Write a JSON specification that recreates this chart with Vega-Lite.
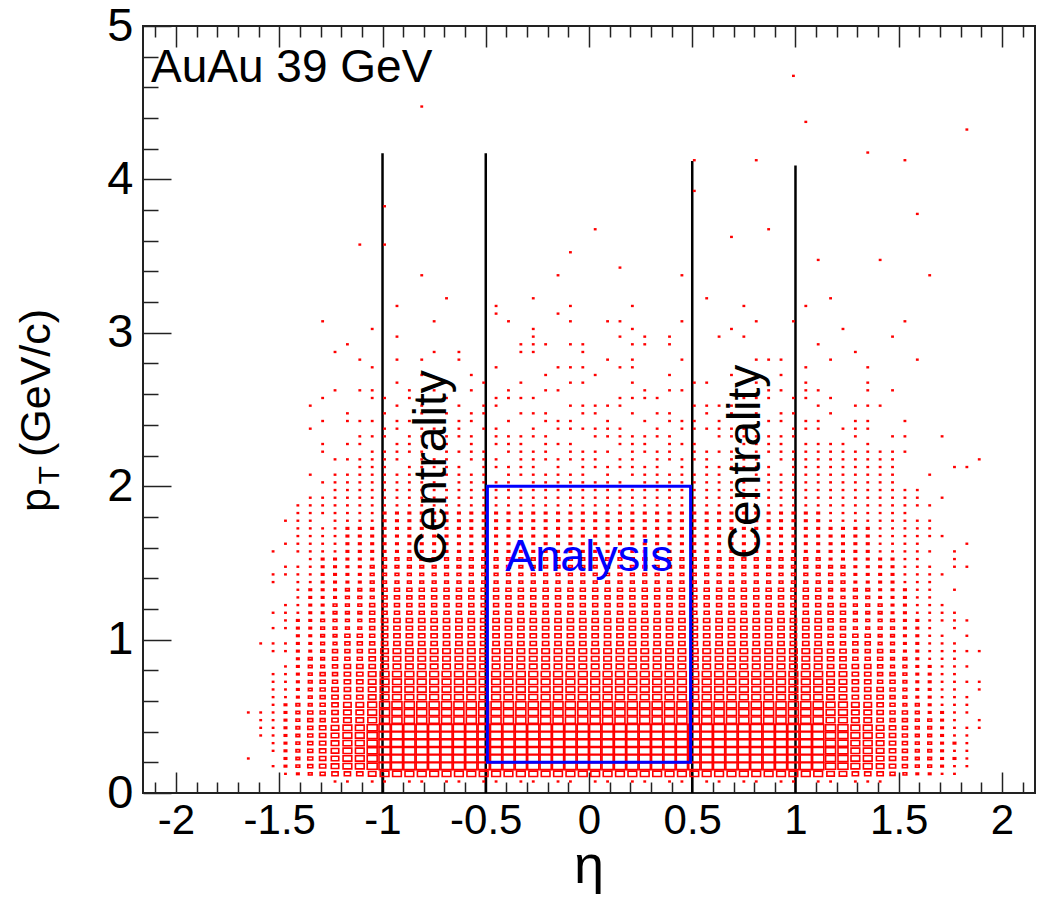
{
"$schema": "https://vega.github.io/schema/vega-lite/v6.json",
"width": 892, "height": 767,
"autosize": {"type": "none"},
"padding": {"left": 143, "top": 26, "right": 12, "bottom": 105},
"background": "white",
"config": {"view": {"stroke": "#222", "strokeWidth": 2}, "font": "Liberation Sans"},
"datasets": {
"grid": [{"k": 1, "p": [0.075,0.125,0.175,0.225,0.275,0.325,0.375,0.425,0.475,0.525,0.575,0.625,0.675,0.725,0.775,0.825,0.875,0.925,0.975,1.025,1.075,1.125,1.175,1.225,1.275,1.325,1.375,1.425,1.475,1.525,1.575,1.625,1.675,1.725,1.775,1.825,1.875,1.925,1.975,2.025,2.075,2.125,2.175,2.225,2.275,2.325,2.375,2.425,2.475,2.525,2.575,2.625,2.675,2.725]}],
"cols": [
{"e":-1.65,"k":1,"n":[0,0,0,1,0,0,0,0,0,1]},
{"e":-1.59,"k":1,"n":[0,0,0,0,0,0,1,1,1,1,0,0,0,0,0,0,0,0,1]},
{"e":-1.53,"k":1,"n":[0,0,1,0,1,1,1,1,1,1,1,1,1,1,1,0,0,1,1,0,1,0,1,0,0,0,1,1,0,0,1]},
{"e":-1.47,"k":1,"n":[0,1,2,2,2,2,2,2,2,2,2,1,1,1,1,1,0,1,1,0,1,1,1,1,0,0,0,1,1,0,0,1,0,0,1]},
{"e":-1.41,"k":1,"n":[0,2,3,3,3,3,3,3,3,3,3,2,2,2,2,2,2,2,2,2,2,2,1,1,1,1,1,1,1,0,1,1,1,1,1,1,1]},
{"e":-1.35,"k":1,"n":[0,3,4,4,4,4,4,4,4,4,3,3,3,3,3,3,3,2,2,2,2,2,2,2,2,2,1,1,1,1,1,1,1,1,1,1,1,1,0,0,1,0,0,0,0,0,1,0,0,1]},
{"e":-1.29,"k":1,"n":[0,4,5,5,5,5,5,5,4,4,4,4,4,4,4,3,3,3,3,3,3,3,2,2,2,2,2,2,2,2,1,1,1,1,0,1,1,1,0,1,0,0,0,1,1,0,0,1,0,0,1]},
{"e":-1.23,"k":1,"n":[1,5,6,6,6,6,6,6,5,5,5,5,5,4,4,4,4,4,3,3,3,3,3,3,2,2,2,2,2,2,1,1,1,1,1,1,1,1,1,1,1,0,1,0,0,0,0,0,0,0,0,1]},
{"e":-1.17,"k":1,"n":[1,5,7,7,7,7,7,7,6,6,6,5,5,5,5,5,4,4,4,4,3,3,3,3,3,3,2,2,2,2,2,2,2,2,1,1,1,1,1,1,1,0,1,0,1,0,0,1,1]},
{"e":-1.11,"k":1,"n":[0,5,7,7,7,7,7,7,6,6,6,5,5,5,5,5,4,4,4,4,3,3,3,3,3,3,2,2,2,2,2,2,2,2,1,1,1,1,1,1,1,1,1,0,1,1,0,1,0,0,0,1]},
{"e":-1.05,"k":1,"n":[1,6,8,8,8,8,8,8,7,7,7,6,6,6,6,5,5,5,4,4,4,4,4,4,3,3,3,3,3,2,2,2,2,2,1,1,1,1,1,1,1,1,1,1,0,1,0,1,0,0,1,1]},
{"e":-0.99,"k":1,"n":[1,7,9,9,9,9,9,9,8,8,8,7,7,7,7,6,6,6,5,5,5,5,4,4,4,4,3,3,3,3,2,2,2,2,2,2,1,1,1,1,1,1,1,1,0,1,1,0,1,0,1,0,0,0]},
{"e":-0.93,"k":1,"n":[0,7,9,9,9,9,9,9,8,8,8,7,7,7,7,6,6,6,5,5,5,5,4,4,4,4,3,3,3,3,2,2,2,2,2,2,1,1,1,1,1,0,1,1,1,0,1,1,0,1,0,0,1,0]},
{"e":-0.87,"k":1,"n":[1,7,9,9,9,9,9,9,8,8,8,7,7,7,7,6,6,6,5,5,5,5,4,4,4,4,3,3,3,3,2,2,2,2,2,2,1,1,1,1,1,1,0,1,1,1,0,1,0,0,1,1,0,0]},
{"e":-0.81,"k":1,"n":[1,7,9,9,9,9,9,9,8,8,8,7,7,7,7,6,6,6,5,5,5,5,4,4,4,4,3,3,3,3,2,2,2,2,2,2,1,1,1,1,0,1,1,1,0,1,1,0,1,1,0,0,0,1]},
{"e":-0.75,"k":1,"n":[0,7,9,9,9,9,9,9,8,8,8,7,7,7,7,6,6,6,5,5,5,5,4,4,4,4,3,3,3,3,2,2,2,2,2,2,1,1,1,1,1,1,1,0,1,0,1,1,0,0,0,1,0,0]},
{"e":-0.69,"k":1,"n":[1,7,9,9,9,9,9,9,8,8,8,7,7,7,7,6,6,6,5,5,5,5,4,4,4,4,3,3,3,3,2,2,2,2,2,2,1,1,1,0,1,1,1,1,1,1,0,0,1,0,1,0,1,0]},
{"e":-0.63,"k":1,"n":[1,7,9,9,9,9,9,9,8,8,8,7,7,7,7,6,6,6,5,5,5,5,4,4,4,4,3,3,3,3,2,2,2,2,2,2,1,1,1,1,1,1,0,1,0,1,1,1,0,1,0,0,0,0]},
{"e":-0.57,"k":1,"n":[0,7,9,9,9,9,9,9,8,8,8,7,7,7,7,6,6,6,5,5,5,5,4,4,4,4,3,3,3,3,2,2,2,2,2,2,1,1,1,1,1,0,1,1,1,1,0,1,1,0,0,1,0,1]},
{"e":-0.51,"k":1,"n":[1,7,9,9,9,9,9,9,8,8,8,7,7,7,7,6,6,6,5,5,5,5,4,4,4,4,3,3,3,3,2,2,2,2,2,2,1,1,1,1,1,1,1,1,0,0,1,0,1,1,0,0,1,0]},
{"e":-0.45,"k":1,"n":[1,7,9,9,9,9,9,9,8,8,8,7,7,7,7,6,6,6,5,5,5,5,4,4,4,4,3,3,3,3,2,2,2,2,2,2,1,1,1,1,0,1,1,0,1,1,1,0,0,1,1,0,0,0]},
{"e":-0.39,"k":1,"n":[0,7,9,9,9,9,9,9,8,8,8,7,7,7,7,6,6,6,5,5,5,5,4,4,4,4,3,3,3,3,2,2,2,2,2,2,1,1,1,1,1,1,0,1,1,1,0,1,0,0,1,1,0,0]},
{"e":-0.33,"k":1,"n":[1,7,9,9,9,9,9,9,8,8,8,7,7,7,7,6,6,6,5,5,5,5,4,4,4,4,3,3,3,3,2,2,2,2,2,2,1,1,1,0,1,1,1,1,1,1,0,0,1,0,1,0,1,0]},
{"e":-0.27,"k":1,"n":[1,7,9,9,9,9,9,9,8,8,8,7,7,7,7,6,6,6,5,5,5,5,4,4,4,4,3,3,3,3,2,2,2,2,2,2,1,1,1,1,1,1,1,1,0,1,1,0,1,0,1,0,0,0]},
{"e":-0.21,"k":1,"n":[0,7,9,9,9,9,9,9,8,8,8,7,7,7,7,6,6,6,5,5,5,5,4,4,4,4,3,3,3,3,2,2,2,2,2,2,1,1,1,1,1,0,1,1,1,1,0,1,1,0,0,1,0,1]},
{"e":-0.15,"k":1,"n":[1,7,9,9,9,9,9,9,8,8,8,7,7,7,7,6,6,6,5,5,5,5,4,4,4,4,3,3,3,3,2,2,2,2,2,2,1,1,1,1,1,1,1,0,1,0,1,1,0,0,0,1,0,0]},
{"e":-0.09,"k":1,"n":[1,7,9,9,9,9,9,9,8,8,8,7,7,7,7,6,6,6,5,5,5,5,4,4,4,4,3,3,3,3,2,2,2,2,2,2,1,1,1,1,1,0,1,1,1,0,1,1,0,1,0,0,1,0]},
{"e":-0.03,"k":1,"n":[0,7,9,9,9,9,9,9,8,8,8,7,7,7,7,6,6,6,5,5,5,5,4,4,4,4,3,3,3,3,2,2,2,2,2,2,1,1,1,1,1,1,1,1,0,0,1,0,1,1,0,0,1,0]},
{"e":0.03,"k":1,"n":[1,7,9,9,9,9,9,9,8,8,8,7,7,7,7,6,6,6,5,5,5,5,4,4,4,4,3,3,3,3,2,2,2,2,2,2,1,1,1,1,0,1,1,1,0,1,1,0,1,1,0,0,0,1]},
{"e":0.09,"k":1,"n":[1,7,9,9,9,9,9,9,8,8,8,7,7,7,7,6,6,6,5,5,5,5,4,4,4,4,3,3,3,3,2,2,2,2,2,2,1,1,1,1,1,1,0,1,0,1,1,1,0,1,0,0,0,0]},
{"e":0.15,"k":1,"n":[0,7,9,9,9,9,9,9,8,8,8,7,7,7,7,6,6,6,5,5,5,5,4,4,4,4,3,3,3,3,2,2,2,2,2,2,1,1,1,1,0,1,1,0,1,1,1,0,0,1,1,0,0,0]},
{"e":0.21,"k":1,"n":[1,7,9,9,9,9,9,9,8,8,8,7,7,7,7,6,6,6,5,5,5,5,4,4,4,4,3,3,3,3,2,2,2,2,2,2,1,1,1,0,1,1,1,1,1,1,0,0,1,0,1,0,1,0]},
{"e":0.27,"k":1,"n":[1,7,9,9,9,9,9,9,8,8,8,7,7,7,7,6,6,6,5,5,5,5,4,4,4,4,3,3,3,3,2,2,2,2,2,2,1,1,1,1,1,1,0,1,1,1,0,1,0,0,1,1,0,0]},
{"e":0.33,"k":1,"n":[0,7,9,9,9,9,9,9,8,8,8,7,7,7,7,6,6,6,5,5,5,5,4,4,4,4,3,3,3,3,2,2,2,2,2,2,1,1,1,1,1,1,1,1,0,1,1,0,1,0,1,0,0,0]},
{"e":0.39,"k":1,"n":[1,7,9,9,9,9,9,9,8,8,8,7,7,7,7,6,6,6,5,5,5,5,4,4,4,4,3,3,3,3,2,2,2,2,2,2,1,1,1,1,1,0,1,1,1,1,0,1,1,0,0,1,0,1]},
{"e":0.45,"k":1,"n":[1,7,9,9,9,9,9,9,8,8,8,7,7,7,7,6,6,6,5,5,5,5,4,4,4,4,3,3,3,3,2,2,2,2,2,2,1,1,1,1,1,1,1,0,1,0,1,1,0,0,0,1,0,0]},
{"e":0.51,"k":1,"n":[0,7,9,9,9,9,9,9,8,8,8,7,7,7,7,6,6,6,5,5,5,5,4,4,4,4,3,3,3,3,2,2,2,2,2,2,1,1,1,1,1,0,1,1,1,0,1,1,0,1,0,0,1,0]},
{"e":0.57,"k":1,"n":[1,7,9,9,9,9,9,9,8,8,8,7,7,7,7,6,6,6,5,5,5,5,4,4,4,4,3,3,3,3,2,2,2,2,2,2,1,1,1,1,1,1,1,1,0,0,1,0,1,1,0,0,1,0]},
{"e":0.63,"k":1,"n":[1,7,9,9,9,9,9,9,8,8,8,7,7,7,7,6,6,6,5,5,5,5,4,4,4,4,3,3,3,3,2,2,2,2,2,2,1,1,1,1,1,1,0,1,0,1,1,1,0,1,0,0,0,0]},
{"e":0.69,"k":1,"n":[0,7,9,9,9,9,9,9,8,8,8,7,7,7,7,6,6,6,5,5,5,5,4,4,4,4,3,3,3,3,2,2,2,2,2,2,1,1,1,1,0,1,1,1,0,1,1,0,1,1,0,0,0,1]},
{"e":0.75,"k":1,"n":[1,7,9,9,9,9,9,9,8,8,8,7,7,7,7,6,6,6,5,5,5,5,4,4,4,4,3,3,3,3,2,2,2,2,2,2,1,1,1,1,0,1,1,0,1,1,1,0,0,1,1,0,0,0]},
{"e":0.81,"k":1,"n":[1,7,9,9,9,9,9,9,8,8,8,7,7,7,7,6,6,6,5,5,5,5,4,4,4,4,3,3,3,3,2,2,2,2,2,2,1,1,1,0,1,1,1,1,1,1,0,0,1,0,1,0,1,0]},
{"e":0.87,"k":1,"n":[0,7,9,9,9,9,9,9,8,8,8,7,7,7,7,6,6,6,5,5,5,5,4,4,4,4,3,3,3,3,2,2,2,2,2,2,1,1,1,1,1,1,0,1,1,1,0,1,0,0,1,1,0,0]},
{"e":0.93,"k":1,"n":[1,7,9,9,9,9,9,9,8,8,8,7,7,7,7,6,6,6,5,5,5,5,4,4,4,4,3,3,3,3,2,2,2,2,2,2,1,1,1,1,1,0,1,1,1,1,0,1,1,0,0,1,0,1]},
{"e":0.99,"k":1,"n":[1,7,9,9,9,9,9,9,8,8,8,7,7,7,7,6,6,6,5,5,5,5,4,4,4,4,3,3,3,3,2,2,2,2,2,2,1,1,1,1,1,1,1,1,0,1,1,0,1,0,1,0,0,0]},
{"e":1.05,"k":1,"n":[0,7,9,9,9,9,9,9,8,8,8,7,7,7,7,6,6,6,5,5,5,5,4,4,4,4,3,3,3,3,2,2,2,2,2,2,1,1,1,1,1,1,1,1,1,0,1,1,0,0,1,1,1,0]},
{"e":1.11,"k":1,"n":[1,7,9,9,9,9,9,9,8,8,8,7,7,7,7,6,6,6,5,5,5,5,4,4,4,4,3,3,3,3,2,2,2,2,2,2,1,1,1,1,1,1,1,1,1,0,1,1,0,1,0,1,0,0]},
{"e":1.17,"k":1,"n":[1,6,8,8,8,8,8,8,7,7,7,6,6,6,6,5,5,5,4,4,4,4,4,4,3,3,3,3,3,2,2,2,2,2,1,1,1,1,1,1,1,1,1,1,1,0,0,0,1,0,1]},
{"e":1.23,"k":1,"n":[0,6,8,8,8,8,8,8,7,7,7,6,6,6,6,5,5,5,4,4,4,4,4,4,3,3,3,3,3,2,2,2,2,2,1,1,1,1,1,1,1,1,1,1,1,0,1]},
{"e":1.29,"k":1,"n":[1,5,7,7,7,7,7,7,6,6,6,5,5,5,5,5,4,4,4,4,3,3,3,3,3,3,2,2,2,2,2,2,2,2,1,1,1,1,1,1,1,1,1,1,0,1,1,1,0,1]},
{"e":1.35,"k":1,"n":[1,5,7,7,7,7,7,7,6,6,6,5,5,5,5,5,4,4,4,4,3,3,3,3,3,3,2,2,2,2,2,2,2,2,1,1,1,1,1,1,1,1,1,1,1,0,1,1,0,1,0,1,1]},
{"e":1.41,"k":1,"n":[1,5,6,6,6,6,6,6,5,5,5,5,5,4,4,4,4,4,3,3,3,3,3,3,2,2,2,2,2,2,1,1,1,1,1,1,1,1,1,1,1,1,1,1,0,0,0,0,0,1]},
{"e":1.47,"k":1,"n":[0,4,5,5,5,5,5,5,4,4,4,4,4,4,4,3,3,3,3,3,3,3,2,2,2,2,2,2,2,2,1,1,1,1,1,1,1,1,1,1,1,1,1,1,0,1,0,0,0,0,0,1]},
{"e":1.53,"k":1,"n":[0,3,4,4,4,4,4,4,4,4,3,3,3,3,3,3,3,2,2,2,2,2,2,2,2,2,1,1,1,1,1,1,1,1,1,1,1,1,1,0,0,0,0,1,0,1,0,1]},
{"e":1.59,"k":1,"n":[0,2,3,3,3,3,3,3,3,3,3,2,2,2,2,2,2,2,2,2,2,2,1,1,1,1,1,1,1,1,1,1,1,1,1,0,1,1,1]},
{"e":1.65,"k":1,"n":[0,2,3,3,3,3,3,3,3,2,2,2,2,2,2,2,1,1,1,1,1,1,1,1,1,1,1,1,1,0,1,0,1,1,1,0,1,0,0,0,1]},
{"e":1.71,"k":1,"n":[0,1,2,2,2,2,2,2,2,2,1,1,1,1,1,1,1,1,1,1,0,1,1,1,0,0,0,1,0,0,0,0,1,0,0,0,0,1,0,0,0,0,0,0,0,1]},
{"e":1.77,"k":1,"n":[0,1,1,2,1,2,1,1,1,1,1,1,1,1,1,1,1,1,1,0,1,1,1,0,0,1,0,0,1,1,1,0,0,0,0,0,0,0,0,0,0,1]},
{"e":1.83,"k":1,"n":[0,0,1,1,1,1,1,1,0,1,1,1,0,1,0,1,0,1,0,1,0,1,0,0,0,0,0,0,1,0,0,1,0,0,0,0,0,0,0,0,0,1]},
{"e":1.89,"k":1,"n":[0,0,0,0,0,0,0,1,1,0,0,0,1,1,0,0,0,1,0,0,0,0,0,0,0,0,0,0,0,0,0,0,0,0,0,0,0,0,0,0,0,0,1]}
],
"hi": [
{"e":-0.81,"p":4.475,"n":1},{"e":-0.99,"p":3.825,"n":1},{"e":-1.11,"p":3.575,"n":1},{"e":-0.99,"p":3.575,"n":1},{"e":-0.81,"p":3.375,"n":1},{"e":-0.69,"p":3.225,"n":1},
{"e":0.99,"p":4.675,"n":1},{"e":1.05,"p":4.375,"n":1},{"e":1.83,"p":4.325,"n":1},{"e":0.81,"p":4.125,"n":1},{"e":1.35,"p":4.175,"n":1},{"e":1.53,"p":4.125,"n":1},{"e":0.51,"p":4.125,"n":1},{"e":0.51,"p":3.925,"n":1},{"e":1.59,"p":3.775,"n":1},{"e":0.03,"p":3.675,"n":1},{"e":0.69,"p":3.625,"n":1},{"e":0.87,"p":3.675,"n":1},{"e":-0.09,"p":3.525,"n":1},{"e":1.11,"p":3.475,"n":1},{"e":1.41,"p":3.475,"n":1},{"e":-0.15,"p":3.375,"n":1},{"e":0.15,"p":3.425,"n":1},{"e":0.45,"p":3.375,"n":1},{"e":1.65,"p":3.375,"n":1},{"e":-0.27,"p":3.225,"n":1},{"e":0.57,"p":3.225,"n":1},
{"e":-0.93,"p":3.175,"n":1},{"e":-0.45,"p":3.175,"n":1},{"e":-0.09,"p":3.175,"n":1},{"e":0.21,"p":3.175,"n":1},{"e":0.75,"p":3.175,"n":1},{"e":-0.45,"p":3.125,"n":1},{"e":-0.15,"p":3.125,"n":1},{"e":-0.75,"p":3.075,"n":1},{"e":-0.39,"p":3.075,"n":1},{"e":-0.09,"p":3.075,"n":1},{"e":0.09,"p":3.075,"n":1},{"e":0.15,"p":3.075,"n":1},{"e":0.45,"p":3.075,"n":1},{"e":0.81,"p":3.075,"n":1},{"e":-0.27,"p":3.025,"n":1},{"e":0.21,"p":3.025,"n":1},{"e":0.69,"p":3.025,"n":1},
{"e":-0.93,"p":2.975,"n":1},{"e":-0.27,"p":2.975,"n":1},{"e":0.15,"p":2.975,"n":1},{"e":0.27,"p":2.975,"n":1},{"e":0.39,"p":2.975,"n":1},{"e":0.63,"p":2.975,"n":1},{"e":0.75,"p":2.975,"n":1},{"e":-0.75,"p":2.875,"n":1},{"e":-0.63,"p":2.875,"n":1},{"e":-0.33,"p":2.925,"n":1},{"e":-0.27,"p":2.925,"n":1},{"e":-0.21,"p":2.925,"n":1},{"e":-0.09,"p":2.925,"n":1},{"e":-0.03,"p":2.925,"n":1},{"e":0.21,"p":2.925,"n":1},{"e":0.27,"p":2.925,"n":1},{"e":0.39,"p":2.925,"n":1},{"e":-0.33,"p":2.875,"n":1},{"e":-0.27,"p":2.875,"n":1},{"e":-0.03,"p":2.875,"n":1},
{"e":-0.93,"p":2.825,"n":1},{"e":-0.81,"p":2.825,"n":1},{"e":-0.63,"p":2.825,"n":1},{"e":0.09,"p":2.825,"n":1},{"e":0.21,"p":2.825,"n":1},{"e":0.45,"p":2.825,"n":1},{"e":0.81,"p":2.825,"n":1},{"e":0.87,"p":2.825,"n":1},{"e":0.93,"p":2.825,"n":1},{"e":-0.45,"p":2.775,"n":1},{"e":-0.15,"p":2.775,"n":1},{"e":-0.09,"p":2.775,"n":1},{"e":-0.03,"p":2.775,"n":1},{"e":0.15,"p":2.775,"n":1},{"e":0.21,"p":2.775,"n":1},
{"e":-1.29,"p":3.075,"n":1},{"e":-1.23,"p":2.875,"n":1},{"e":-1.17,"p":2.925,"n":1},{"e":-1.05,"p":3.025,"n":1},{"e":-1.11,"p":2.825,"n":1},{"e":-1.05,"p":2.775,"n":1},{"e":1.05,"p":2.775,"n":1},{"e":1.11,"p":2.925,"n":1},{"e":1.17,"p":2.825,"n":1},{"e":1.23,"p":3.025,"n":1},{"e":1.29,"p":2.875,"n":1},{"e":1.35,"p":2.775,"n":1},{"e":1.47,"p":2.975,"n":1},{"e":1.53,"p":3.075,"n":1},{"e":1.59,"p":2.825,"n":1},{"e":1.17,"p":3.225,"n":1},{"e":0.99,"p":3.075,"n":1},{"e":1.05,"p":3.175,"n":1}
]
},
"resolve": {"scale": {"x": "independent"}},
"layer": [
{
"data": {"values": [{"e": -1, "p": 0, "p2": 4.17}, {"e": -0.5, "p": 0, "p2": 4.17}, {"e": 0.5, "p": 0, "p2": 4.12}, {"e": 1, "p": 0, "p2": 4.09}]},
"mark": {"type": "rule", "color": "#000000", "strokeWidth": 2.5},
"encoding": {
"x": {"field": "e", "type": "quantitative", "scale": {"domain": [-2.16, 2.16], "nice": false, "zero": false},
"axis": {"orient": "top", "values": [-2.1,-2,-1.9,-1.8,-1.7,-1.6,-1.5,-1.4,-1.3,-1.2,-1.1,-1,-0.9,-0.8,-0.7,-0.6,-0.5,-0.4,-0.3,-0.2,-0.1,0,0.1,0.2,0.3,0.4,0.5,0.6,0.7,0.8,0.9,1,1.1,1.2,1.3,1.4,1.5,1.6,1.7,1.8,1.9,2,2.1],
"title": null, "domain": false, "grid": false, "labels": false, "tickColor": "#222", "tickWidth": 1.5,
"tickSize": {"condition": {"test": "abs(datum.value*2-round(datum.value*2))<0.001", "value": -21}, "value": -11}}},
"y": {"field": "p", "type": "quantitative", "scale": {"domain": [0, 5], "nice": false, "zero": false},
"axis": {"orient": "left", "values": [0,0.2,0.4,0.6,0.8,1,1.2,1.4,1.6,1.8,2,2.2,2.4,2.6,2.8,3,3.2,3.4,3.6,3.8,4,4.2,4.4,4.6,4.8,5],
"title": null, "domain": false, "grid": false, "tickColor": "#222", "tickWidth": 1.5,
"tickSize": {"condition": {"test": "abs(datum.value-round(datum.value))<0.001", "value": -28}, "value": -15},
"labelExpr": "abs(datum.value-round(datum.value))<0.001 ? toString(round(datum.value)) : ''",
"labelFont": "Liberation Sans", "labelFontSize": 47, "labelColor": "#000", "labelPadding": 38, "labelOverlap": false, "labelFlush": false, "labelBound": false}},
"y2": {"field": "p2"}
}
},
{
"encoding": {
"x": {"field": "e", "type": "quantitative", "scale": {"domain": [-2.16, 2.16], "nice": false, "zero": false},
"axis": {"orient": "bottom", "values": [-2.1,-2,-1.9,-1.8,-1.7,-1.6,-1.5,-1.4,-1.3,-1.2,-1.1,-1,-0.9,-0.8,-0.7,-0.6,-0.5,-0.4,-0.3,-0.2,-0.1,0,0.1,0.2,0.3,0.4,0.5,0.6,0.7,0.8,0.9,1,1.1,1.2,1.3,1.4,1.5,1.6,1.7,1.8,1.9,2,2.1],
"title": null, "domain": false, "grid": false, "tickColor": "#222", "tickWidth": 1.5,
"tickSize": {"condition": {"test": "abs(datum.value*2-round(datum.value*2))<0.001", "value": -21}, "value": -11},
"labelExpr": "abs(datum.value*2-round(datum.value*2))<0.001 ? toString(datum.value) : ''",
"labelFont": "Liberation Sans", "labelFontSize": 42, "labelColor": "#000", "labelPadding": 28, "labelOverlap": false, "labelFlush": false, "labelBound": false}},
"y": {"field": "p", "type": "quantitative", "scale": {"domain": [0, 5], "nice": false, "zero": false},
"axis": {"orient": "left", "values": [0,0.2,0.4,0.6,0.8,1,1.2,1.4,1.6,1.8,2,2.2,2.4,2.6,2.8,3,3.2,3.4,3.6,3.8,4,4.2,4.4,4.6,4.8,5],
"title": null, "domain": false, "grid": false, "tickColor": "#222", "tickWidth": 1.5,
"tickSize": {"condition": {"test": "abs(datum.value-round(datum.value))<0.001", "value": -28}, "value": -15},
"labelExpr": "abs(datum.value-round(datum.value))<0.001 ? toString(round(datum.value)) : ''",
"labelFont": "Liberation Sans", "labelFontSize": 47, "labelColor": "#000", "labelPadding": 38, "labelOverlap": false, "labelFlush": false, "labelBound": false}}
},
"layer": [
{
"data": {"name": "cols"},
"transform": [
{"lookup": "k", "from": {"data": {"name": "grid"}, "key": "k", "fields": ["p"]}},
{"flatten": ["p", "n"]},
{"filter": "datum.n > 0"}
],
"mark": {"type": "point", "shape": "M-1,-0.616H1V0.616H-1Z", "filled": false, "color": "#ff0000", "strokeWidth": 1.6, "opacity": 1},
"encoding": {
"size": {"field": "n", "type": "quantitative", "scale": {"type": "pow", "exponent": 2, "domain": [0, 9], "range": [0, 125]}, "legend": null}
}
},
{
"data": {"name": "hi"},
"mark": {"type": "point", "shape": "M-1,-0.616H1V0.616H-1Z", "filled": false, "color": "#ff0000", "strokeWidth": 1.6, "opacity": 1},
"encoding": {
"size": {"field": "n", "type": "quantitative", "scale": {"type": "pow", "exponent": 2, "domain": [0, 9], "range": [0, 125]}, "legend": null}
}
},
{
"data": {"values": [{"e": -0.492, "e2": 0.492, "p": 0.2, "p2": 2.0}]},
"mark": {"type": "rect", "filled": false, "color": "#0000ff", "strokeWidth": 3},
"encoding": {"x2": {"field": "e2"}, "y2": {"field": "p2"}}
},
{
"data": {"values": [{"e": -2.121, "p": 4.637, "t": "AuAu 39 GeV"}]},
"mark": {"type": "text", "font": "Liberation Sans", "fontSize": 46, "align": "left", "baseline": "alphabetic", "color": "#000000"},
"encoding": {"text": {"field": "t"}}
},
{
"data": {"values": [{"e": 0.0, "p": 1.45, "t": "Analysis"}]},
"mark": {"type": "text", "font": "Liberation Sans", "fontSize": 45, "align": "center", "baseline": "alphabetic", "color": "#0000ff"},
"encoding": {"text": {"field": "t"}}
},
{
"data": {"values": [{"e": -0.692, "p": 2.122, "t": "Centrality"}, {"e": 0.828, "p": 2.158, "t": "Centrality"}]},
"mark": {"type": "text", "font": "Liberation Sans", "fontSize": 46, "align": "center", "baseline": "alphabetic", "angle": 270, "color": "#000000"},
"encoding": {"text": {"field": "t"}}
},
{
"data": {"values": [{"e": -2.61, "p": 1.91, "t": "p"}, {"e": -2.61, "p": 2.673, "t": "(GeV/c)"}]},
"mark": {"type": "text", "font": "Liberation Sans", "fontSize": 43, "align": "center", "baseline": "alphabetic", "angle": 270, "color": "#000000"},
"encoding": {"text": {"field": "t"}}
},
{
"data": {"values": [{"e": -2.565, "p": 2.07, "t": "T"}]},
"mark": {"type": "text", "font": "Liberation Sans", "fontSize": 30, "align": "center", "baseline": "alphabetic", "angle": 270, "color": "#000000"},
"encoding": {"text": {"field": "t"}}
},
{
"data": {"values": [{"e": 0.0, "p": -0.585, "t": "η"}]},
"mark": {"type": "text", "font": "Liberation Sans", "fontSize": 54, "align": "center", "baseline": "alphabetic", "color": "#000000"},
"encoding": {"text": {"field": "t"}}
}
]
}
]
}
